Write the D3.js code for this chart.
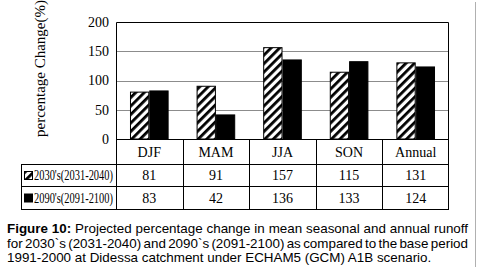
<!DOCTYPE html>
<html><head><meta charset="utf-8">
<script src="https://cdn.jsdelivr.net/npm/d3@7"></script>
<style>
html,body{margin:0;padding:0;background:#fff;}
svg{display:block;}
</style></head>
<body>
<svg id="chart" width="478" height="267"></svg>
<script>
const categories = ["DJF","MAM","JJA","SON","Annual"];
const seriesNames = ["2030's(2031-2040)","2090's(2091-2100)"];
const values2030 = [81,91,157,115,131];
const values2090 = [83,42,136,133,124];
const yTicks = [0,50,100,150,200];
const yTitle = "percentage Change(%)";
const captionLines = [
  {bold:"Figure 10:", text:" Projected percentage change in mean seasonal and annual runoff", justify:true},
  {bold:"", text:"for 2030`s (2031-2040) and 2090`s (2091-2100) as compared to the base period", justify:true},
  {bold:"", text:"1991-2000 at Didessa catchment under ECHAM5 (GCM) A1B scenario.", justify:false}
];

(function(){
const svg = d3.select("#chart");
const serif = "'Liberation Serif','Times New Roman',serif";
const sans = "'Liberation Sans',Arial,sans-serif";

const defs = svg.append("defs");
const pat = defs.append("pattern").attr("id","hatch").attr("patternUnits","userSpaceOnUse")
  .attr("width",6).attr("height",6).attr("patternTransform","rotate(45)");
pat.append("rect").attr("width",6).attr("height",6).attr("fill","#fff");
pat.append("rect").attr("x",0).attr("y",0).attr("width",2.8).attr("height",6).attr("fill","#000");

const pLeft = 116, pRight = 449, pTop = 22, pBottom = 139;
const x = d3.scaleBand().domain(categories).range([pLeft,pRight]).padding(0);
const bw = x.bandwidth();
const x1 = d3.scaleBand().domain(seriesNames).range([bw*0.21, bw*0.79]).padding(0);
const y = d3.scaleLinear().domain([0,200]).range([pBottom, pTop]);

svg.append("g").selectAll("line").data(yTicks.filter(t=>t>0 && t<200)).join("line")
  .attr("x1",pLeft).attr("x2",pRight).attr("y1",d=>Math.round(y(d))+0.5).attr("y2",d=>Math.round(y(d))+0.5)
  .attr("stroke","#8c8c8c").attr("stroke-width",1);

const yAxis = d3.axisLeft(y).tickValues(yTicks).tickSize(0).tickPadding(7);
const ga = svg.append("g").attr("transform",`translate(${pLeft},0)`).call(yAxis);
ga.select(".domain").remove();
ga.selectAll("text").attr("font-family",serif).attr("font-size",14).attr("fill","#000");

const data = categories.map((c,i)=>({cat:c, vals:[values2030[i], values2090[i]]}));
const grp = svg.append("g").selectAll("g").data(data).join("g")
  .attr("transform",d=>`translate(${x(d.cat)},0)`);
grp.selectAll("rect").data(d=>d.vals.map((v,j)=>({v, s:seriesNames[j], j}))).join("rect")
  .attr("x",d=>x1(d.s)+0.5).attr("width",x1.bandwidth()-1)
  .attr("y",d=>y(d.v)+0.5).attr("height",d=>y(0)-y(d.v)-0.5)
  .attr("fill",d=>d.j===0?"url(#hatch)":"#000")
  .attr("stroke","#000").attr("stroke-width",1);

svg.append("path").attr("d",`M${pLeft+0.5},${pBottom}V${pTop+0.5}H${pRight-0.5}V${pBottom}`)
  .attr("fill","none").attr("stroke","#000").attr("stroke-width",1);

const tLeft = 21, rowTops = [139,164,186,209];
const tbl = svg.append("g").attr("stroke","#000").attr("stroke-width",1);
tbl.append("line").attr("x1",pLeft).attr("x2",pRight).attr("y1",rowTops[0]+0.5).attr("y2",rowTops[0]+0.5);
[1,2,3].forEach(k=>tbl.append("line").attr("x1",tLeft).attr("x2",pRight).attr("y1",rowTops[k]+0.5).attr("y2",rowTops[k]+0.5));
tbl.append("line").attr("x1",tLeft+0.5).attr("x2",tLeft+0.5).attr("y1",rowTops[1]).attr("y2",rowTops[3]+1);
const colEdges = categories.map(c=>x(c)).concat([pRight]);
colEdges.forEach((cx,i)=>{
  const xx = Math.round(cx)+(i===colEdges.length-1?-0.5:0.5);
  tbl.append("line").attr("x1",xx).attr("x2",xx).attr("y1",rowTops[0]).attr("y2",rowTops[3]+1);
});

svg.append("g").selectAll("text").data(categories).join("text")
  .attr("x",d=>x(d)+bw/2).attr("y",(rowTops[0]+rowTops[1])/2+5)
  .attr("text-anchor","middle").attr("font-family",serif).attr("font-size",14).text(d=>d);

[values2030, values2090].forEach((vals,k)=>{
  const yc = (rowTops[k+1]+rowTops[k+2])/2+5;
  svg.append("g").selectAll("text").data(vals).join("text")
    .attr("x",(d,i)=>x(categories[i])+bw/2).attr("y",yc)
    .attr("text-anchor","middle").attr("font-family",serif).attr("font-size",14).text(d=>d);
  const ky = (rowTops[k+1]+rowTops[k+2])/2 - 4;
  svg.append("rect").attr("x",24.5).attr("y",ky+0.5).attr("width",8).attr("height",8)
    .attr("fill",k===0?"url(#hatch)":"#000").attr("stroke","#000").attr("stroke-width",1);
  svg.append("text").attr("x",34).attr("y",yc).attr("font-family",serif).attr("font-size",14)
    .attr("textLength",79).attr("lengthAdjust","spacingAndGlyphs").text(seriesNames[k]);
});

svg.append("text").attr("transform",`translate(45,137) rotate(-90)`)
  .attr("font-family",serif).attr("font-size",15).attr("fill","#000").text(yTitle);

svg.append("line").attr("x1",475.5).attr("x2",475.5).attr("y1",2).attr("y2",267)
  .attr("stroke","#b0b0b0").attr("stroke-width",1);

const capX = 7, capRight = 468, capY = [233, 247.5, 262];
captionLines.forEach((ln,i)=>{
  const t = svg.append("text").attr("x",capX).attr("y",capY[i]).attr("font-family",sans).attr("font-size",13.4).attr("fill","#000");
  if (ln.bold) t.append("tspan").attr("font-weight","bold").text(ln.bold);
  t.append("tspan").text(ln.text);
  if (ln.justify) {
    const w = t.node().getComputedTextLength();
    const full = (ln.bold + ln.text);
    const spaces = (full.match(/ /g)||[]).length;
    if (spaces>0) t.attr("word-spacing", (capRight-capX-w)/spaces);
  }
});
})();
</script>
</body></html>
